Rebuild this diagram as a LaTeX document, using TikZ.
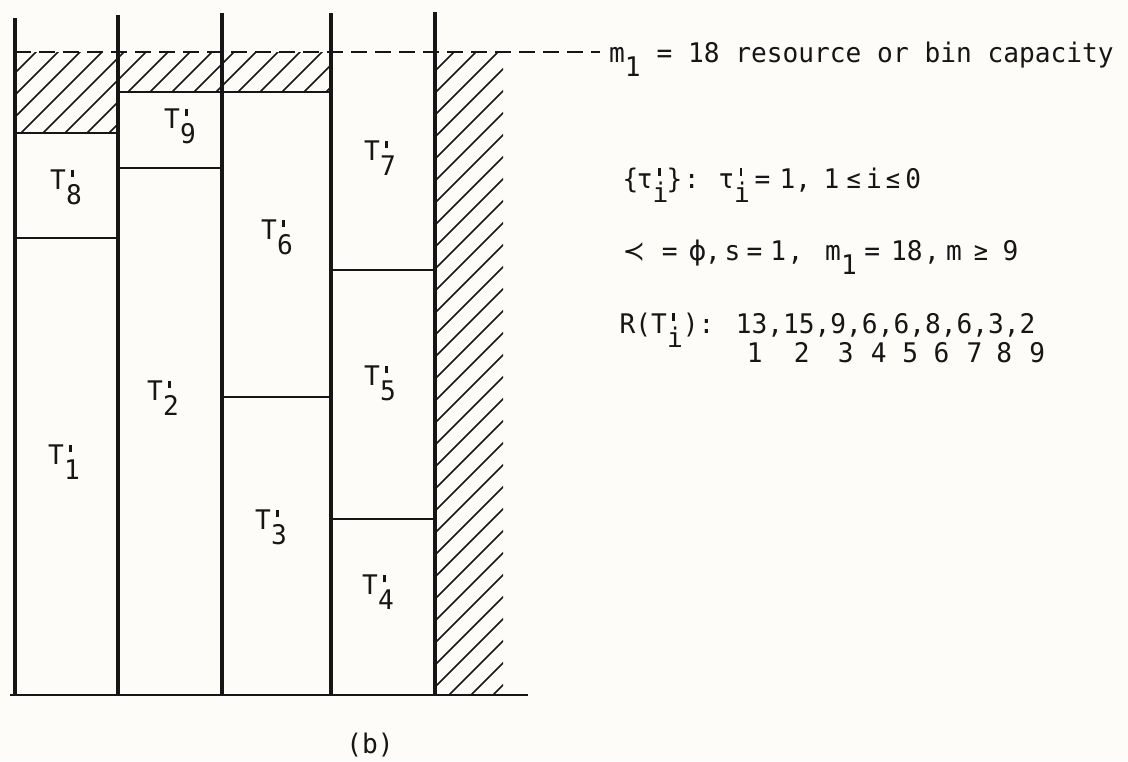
\documentclass[tikz,border=0pt]{standalone}
\usepackage{fontspec}
\newfontfamily\tw[FakeStretch=0.97]{DejaVu Sans Mono}
\newfontfamily\dvs{DejaVu Sans}
\newlength\cw
\setlength\cw{15.7pt}
\newcommand\tk[2]{\makebox[0pt][l]{\hspace{#1\cw}#2}}
\newcommand\pr{\makebox[0pt][l]{\hspace{0.2em}\rule[0.46em]{0.1em}{0.27em}}}
\newcommand\dn[1]{\raisebox{-0.55em}{#1}}
\newcommand\Tl[1]{T\pr\dn{#1}}
\newcommand\sm[1]{\scalebox{0.72}[0.95]{\dvs #1}}
\definecolor{paper}{RGB}{253,252,248}
\definecolor{ink}{RGB}{22,22,22}
\tikzset{
  vline/.style={draw=ink, line width=3.3pt},
  hline/.style={draw=ink, line width=2.8pt},
  capline/.style={draw=ink, line width=2.7pt, dash pattern=on 16pt off 8pt},
  hatch/.style={draw=ink, line width=1.6pt},
  txt/.style={text=ink, inner sep=0pt, font=\tw\fontsize{27}{31}\selectfont},
  lab/.style={text=ink, inner sep=0pt, font=\tw\fontsize{27}{31}\selectfont}
}
\begin{document}
\begin{tikzpicture}[x=1pt,y=-1pt]
\useasboundingbox (0,0) rectangle (1128,761);
\fill[paper] (0,0) rectangle (1128,761);
% hatched (unused) regions
\begin{scope}
  \clip (15,52) rectangle (118,133) (118,52) rectangle (331,92) (435,52) rectangle (503,695);
  \foreach \c in {0,22,...,1300} \draw[hatch] (\c,0) -- ({\c-800},800);
\end{scope}
% bin walls
\coordinate (w1t) at (15,18);  \coordinate (w1b) at (15,695);
\coordinate (w2t) at (118,15); \coordinate (w2b) at (118,695);
\coordinate (w3t) at (222,13); \coordinate (w3b) at (222,695);
\coordinate (w4t) at (331,13); \coordinate (w4b) at (331,695);
\coordinate (w5t) at (435,12); \coordinate (w5b) at (435,695);
\foreach \i in {1,...,5} \draw[vline] (w\i t) -- (w\i b);
\coordinate (bl) at (10,695); \coordinate (br) at (528,695);
\draw[hline] (bl) -- (br);
% capacity line
\coordinate (cl) at (15,52); \coordinate (cr) at (600,52);
\draw[capline] (cl) -- (cr);
% task boundaries
\draw[hline] (15,133) -- (118,133);
\draw[hline] (15,238) -- (118,238);
\draw[hline] (118,92) -- (222,92);
\draw[hline] (118,168) -- (222,168);
\draw[hline] (222,92) -- (331,92);
\draw[hline] (222,397) -- (331,397);
\draw[hline] (331,270) -- (435,270);
\draw[hline] (331,519) -- (435,519);
% task labels
\node[lab] (t8) at (66,187) {\Tl{8}};
\node[lab] (t9) at (180,126) {\Tl{9}};
\node[lab] (t7) at (380,158) {\Tl{7}};
\node[lab] (t6) at (277,237) {\Tl{6}};
\node[lab] (t5) at (380,383) {\Tl{5}};
\node[lab] (t2) at (163,398) {\Tl{2}};
\node[lab] (t1) at (64,462) {\Tl{1}};
\node[lab] (t3) at (271,527) {\Tl{3}};
\node[lab] (t4) at (378,592) {\Tl{4}};
% right-hand text
\node[txt, anchor=base west] (cap) at (609,62) {m\dn{1} = 18 resource or bin capacity};
\node[txt, anchor=base west] (tau) at (622,188) {\tk{0}{\{}\tk{0.9}{τ}\tk{1.9}{\pr\dn{i}}\tk{2.8}{\}}\tk{3.9}{:}\tk{6.1}{τ}\tk{7.1}{\pr\dn{i}}\tk{8.4}{=}\tk{10}{1}\tk{11}{,}\tk{12.8}{1}\tk{14.2}{\sm{≤}}\tk{15.5}{i}\tk{16.7}{\sm{≤}}\tk{18.0}{0}\hspace{19\cw}};
\node[txt, anchor=base west] (prec) at (622,260) {\tk{0}{\dvs ≺}\tk{2.5}{=}\tk{4.2}{\dvs ϕ}\tk{5.25}{,}\tk{6.5}{s}\tk{7.9}{=}\tk{9.4}{1}\tk{10.5}{,}\tk{12.9}{m\dn{1}}\tk{15.4}{=}\tk{17.1}{18}\tk{19.2}{,}\tk{20.6}{m}\tk{22.3}{\sm{≥}}\tk{24.2}{9}\hspace{25.2\cw}};
\node[txt, anchor=base west] (rt) at (619,333) {\tk{0}{R(T\pr\dn{i}):}\tk{7.4}{13,15,9,6,6,8,6,3,2}\hspace{26.4\cw}};
\node[txt, anchor=base west] (ri) at (619,362) {\tk{8.1}{1}\tk{11.1}{2}\tk{13.9}{3}\tk{16}{4}\tk{18}{5}\tk{20}{6}\tk{22.1}{7}\tk{24}{8}\tk{26.1}{9}\hspace{27\cw}};
\node[txt] (fig) at (370,745) {(b)};
\end{tikzpicture}
\end{document}
